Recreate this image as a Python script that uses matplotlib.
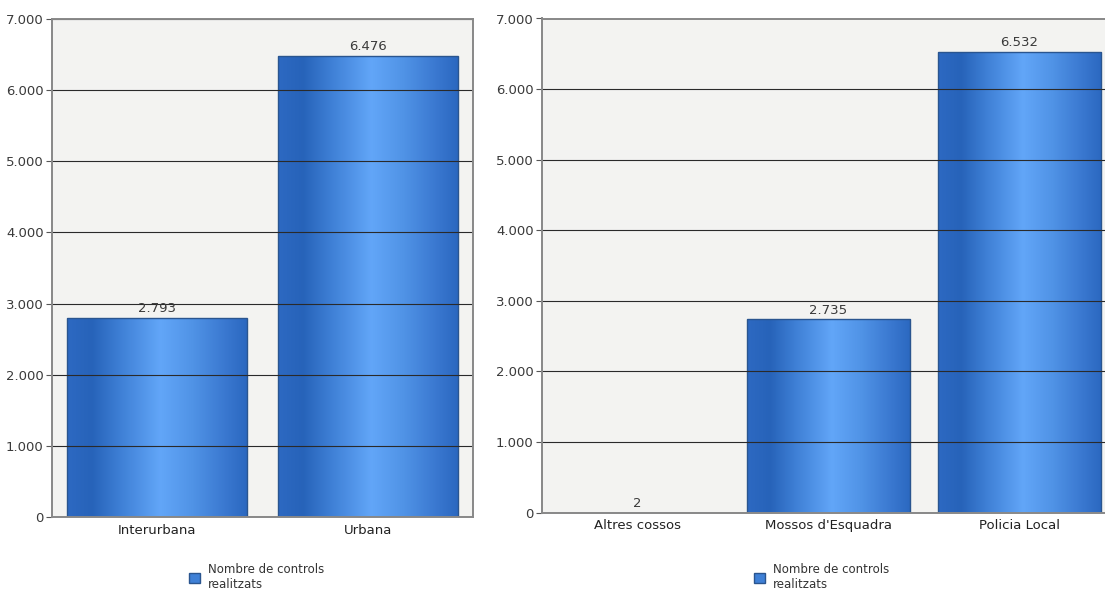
import matplotlib
matplotlib.use("Agg")
import matplotlib.pyplot as plt
import numpy as np
from matplotlib.colors import LinearSegmentedColormap
from matplotlib.ticker import FuncFormatter
from matplotlib.patches import Rectangle

# Data
left_categories = ["Interurbana", "Urbana"]
left_values = [2793, 6476]
right_categories = ["Altres cossos", "Mossos d'Esquadra", "Policia Local"]
right_values = [2, 2735, 6532]
y_ticks = [0, 1000, 2000, 3000, 4000, 5000, 6000, 7000]
legend_label = "Nombre de controls\nrealitzats"

plt.rcParams['font.family'] = ['DejaVu Sans']

cmap = LinearSegmentedColormap.from_list("bar", [
    (0.00, "#2d69c2"),
    (0.14, "#2763b9"),
    (0.30, "#3f80d6"),
    (0.52, "#62a6f8"),
    (0.70, "#5093e6"),
    (0.88, "#3a78d0"),
    (1.00, "#2b68c0"),
])
grad = np.linspace(0, 1, 256).reshape(1, -1)


def fmt(v, pos=None):
    return f"{int(v):,}".replace(",", ".")


def draw(fig, ax, cats, vals, legend_x):
    ax.set_facecolor("#f3f3f1")
    x = np.arange(len(cats))
    bars = ax.bar(x, vals, width=0.855, color="none", edgecolor="#2a558f",
                  linewidth=1.0, zorder=1)
    for b in bars:
        x0, y0 = b.get_x(), b.get_y()
        w, h = b.get_width(), b.get_height()
        if h < 50:
            b.set_edgecolor("none")
            continue
        im = ax.imshow(grad, cmap=cmap, aspect="auto",
                       extent=(x0, x0 + w, y0, y0 + h), zorder=0.9,
                       interpolation="bilinear")
        im.set_clip_path(b)
    for xi, v in zip(x, vals):
        ax.text(xi, v + 40, fmt(v), ha="center", va="bottom",
                fontsize=9.5, color="#3a3a3a", zorder=5)
    ax.set_xlim(-0.5, len(cats) - 0.5)
    ax.set_ylim(0, 7000)
    ax.set_yticks(y_ticks)
    ax.yaxis.set_major_formatter(FuncFormatter(fmt))
    ax.set_xticks(x)
    ax.set_xticklabels(cats)
    ax.set_axisbelow(False)
    ax.yaxis.grid(True, color="#2a2a2a", linewidth=0.8)
    ax.tick_params(axis="y", length=4, color="#555555", labelsize=9.5,
                   labelcolor="#3a3a3a", pad=2)
    ax.tick_params(axis="x", length=0, labelsize=9.5, labelcolor="#222222", pad=5)
    for s in ax.spines.values():
        s.set_color("#888888")
        s.set_linewidth(1.4)
        s.set_zorder(6)
    handle = Rectangle((0, 0), 1, 1, facecolor="#3f80d6", edgecolor="#2a558f")
    ax.legend([handle], [legend_label], loc="upper center",
              bbox_to_anchor=(legend_x / 1105, 1 - 555 / 592),
              bbox_transform=fig.transFigure, frameon=False, fontsize=8.5,
              handlelength=0.9, handleheight=0.9, handletextpad=0.7,
              labelcolor="#333333", labelspacing=0.15, borderpad=0.2)


fig = plt.figure(figsize=(11.05, 5.92), dpi=100)
ax1 = fig.add_axes([52 / 1105, 75 / 592, 421 / 1105, 498 / 592])
ax2 = fig.add_axes([542 / 1105, 79.5 / 592, 572.5 / 1105, 494 / 592])
draw(fig, ax1, left_categories, left_values, 257)
draw(fig, ax2, right_categories, right_values, 822)

fig.savefig("out.png", dpi=100, facecolor="white")
